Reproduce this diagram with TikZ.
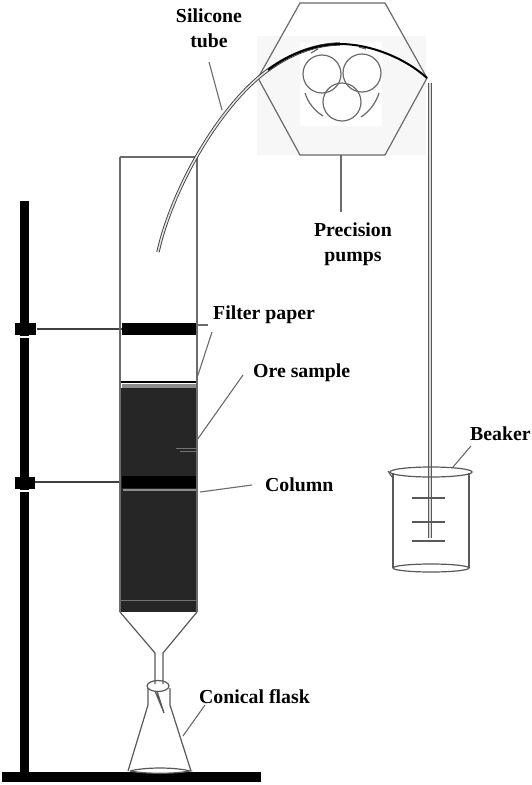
\documentclass[tikz,border=0pt]{standalone}
\usepackage{fontspec}
\setmainfont{Liberation Serif}
\definecolor{ln}{gray}{0.42}
\definecolor{ore}{gray}{0.15}
\tikzset{
  x=1pt,y=-1pt,
  lab/.style={font=\bfseries\fontsize{19.8}{25}\selectfont,text=black,inner sep=0pt,align=center},
  leader/.style={draw=ln,line width=1.1pt},
  wall/.style={draw=ln,line width=1.2pt},
  glass/.style={draw=black!65,line width=1.2pt},
  solid black/.style={fill=black,draw=none},
  tubing/.style={draw=black!75,line width=0.9pt,double=white!90!black,double distance=1.5pt},
  band/.style={draw=black!75,line width=2.6pt},
}
\begin{document}
\begin{tikzpicture}
\useasboundingbox (0,0) rectangle (532,785);
\fill[white] (0,0) rectangle (532,785);
% pump
\fill[black!3] (257,36) rectangle (426,155);
\fill[white] (300,42) rectangle (382,126);
\draw[wall] (258,78) -- (300,3) -- (385,3) -- (427,78) -- (385,155) -- (300,155) -- cycle;
\coordinate (hexb) at (341,155);
% rollers
\draw[wall] (322,74) circle (19);
\draw[wall] (362,73) circle (19);
\draw[wall] (342,102) circle (19);
\draw[wall] (305,93) .. controls (308,103) and (315,111) .. (323,116);
\draw[wall] (379,93) .. controls (376,103) and (369,112) .. (361,117);
\draw[wall] (311,53) -- (318,49);
\draw[wall] (359,47) -- (366,49);
% stand
\fill[solid black] (20,201) rectangle (29,775);
\fill[solid black] (2,772) rectangle (261,782);
\fill[solid black] (15,323) rectangle (36,335);
\fill[solid black] (15,477) rectangle (35,489);
\draw[band] (37,329) -- (122,329);
\draw[band] (35,482) -- (122,482);
\fill[white] (20,336) rectangle (29,338);
\fill[white] (20,490) rectangle (29,492);
% column
\fill[ore] (120,388) rectangle (197,612);
\fill[white] (120,388) rectangle (197,381);
\fill[black] (121,381) rectangle (196,383);
\fill[black!45] (122,384) rectangle (196,388);
\fill[black!45] (123,489) rectangle (197,491);
\draw[black!55,line width=0.6pt] (121,600) -- (197,600);
\draw[black!55,line width=0.6pt] (176,448) -- (197,448);
\draw[black!55,line width=0.6pt] (180,451) -- (197,451);
\fill[solid black] (122,323) rectangle (197,335);
\fill[solid black] (122,476) rectangle (197,488);
\draw[wall] (120,157) -- (197,157);
\draw[wall] (120,157) -- (120,612);
\draw[wall] (197,157) -- (197,612);
% funnel
\draw[glass] (120,612) -- (155,653) -- (155,684);
\draw[glass] (197,612) -- (163,653) -- (163,684);
% flask
\draw[glass] (148,688) -- (148,705) -- (128,771);
\draw[glass] (170,688) -- (170,705) -- (191,771);
\draw[glass] (158,686) ellipse (11 and 5.5);
\draw[glass] (155,691) -- (164,713) -- (157,691);
\draw[glass,fill=white] (130,771) .. controls (145,767) and (175,767) .. (190,771) .. controls (175,774) and (145,774) .. (130,771);
% tube
\draw[tubing] (158,252) .. controls (172,190) and (215,115) .. (258,78) .. controls (285,55) and (315,44) .. (340,44);
\draw[black,line width=2pt] (268,70) .. controls (290,53) and (317,44) .. (340,44) .. controls (370,44) and (405,58) .. (427,78);
\draw[draw=black!65,line width=1.1pt,double=white!85!black,double distance=1.5pt] (430,83) -- (430,538);
% beaker
\draw[glass] (393,473) -- (393,568);
\draw[glass] (469,473) -- (469,568);
\draw[glass] (431,472) ellipse (41 and 5);
\draw[glass] (431,568) ellipse (38 and 4);
\draw[glass] (388,471) -- (392,477);
\draw[glass] (412,498) -- (445,498);
\draw[glass] (412,522) -- (445,522);
\draw[glass] (412,541) -- (445,541);
% labels
\node[lab] (silicone) at (209,28) {Silicone\\tube};
\node[lab] (pumps) at (353,244) {Precision\\pumps};
\node[lab,anchor=west] (filter) at (213,315) {Filter paper};
\node[lab,anchor=west] (oresample) at (253,373) {Ore sample};
\node[lab,anchor=west] (columnlab) at (265,485) {Column};
\node[lab,anchor=west] (beaker) at (470,434) {Beaker};
\node[lab,anchor=west] (conical) at (199,697) {Conical flask};
% leaders
\coordinate (tubept) at (222,110);
\coordinate (f1) at (197,325);
\coordinate (f2) at (197,378);
\coordinate (orept) at (197,440);
\coordinate (colpt) at (200,492);
\coordinate (beakpt) at (453,467);
\coordinate (flaskpt) at (183,736);
\draw[leader] (209,62) -- (tubept);
\draw[leader] (hexb) -- (341,212);
\draw[leader] (f1) -- (208,325);
\draw[leader] (212,332) -- (f2);
\draw[leader] (243,375) -- (orept);
\draw[leader] (252,485) -- (colpt);
\draw[leader] (471,446) -- (beakpt);
\draw[leader] (205,705) -- (flaskpt);
\end{tikzpicture}
\end{document}
